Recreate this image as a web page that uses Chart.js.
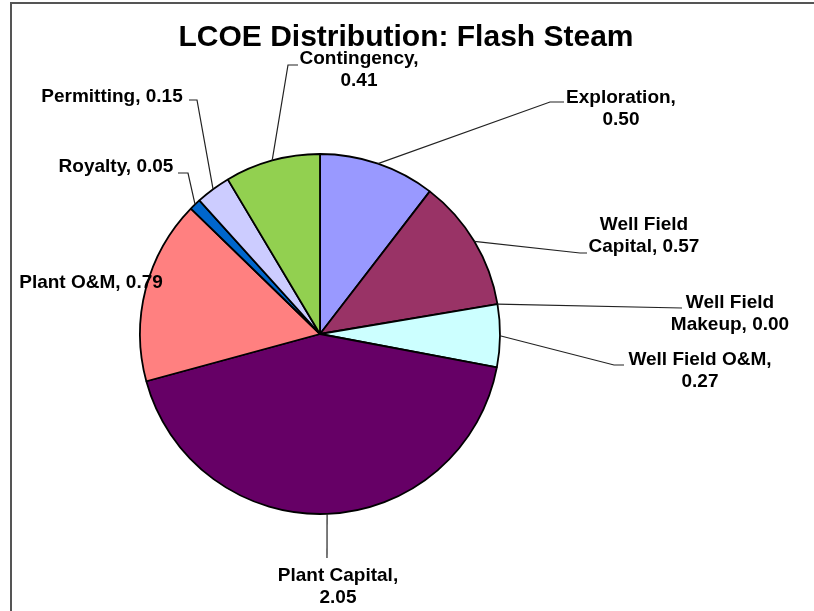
<!DOCTYPE html>
<html>
<head>
<meta charset="utf-8">
<title>LCOE Distribution: Flash Steam</title>
<script src="https://cdn.jsdelivr.net/npm/chart.js@4"></script>
<style>
  html, body { margin: 0; padding: 0; background: #fff; }
  #wrap { width: 814px; height: 611px; }
</style>
</head>
<body>
<div id="wrap"><canvas id="lcoeChart" width="814" height="611"></canvas></div>
<script>
/* =========================
   DATA
========================= */
const chartTitle = "LCOE Distribution: Flash Steam";

const categories = [
  "Exploration",
  "Well Field Capital",
  "Well Field Makeup",
  "Well Field O&M",
  "Plant Capital",
  "Plant O&M",
  "Royalty",
  "Permitting",
  "Contingency"
];

const values = [0.50, 0.57, 0.00, 0.27, 2.05, 0.79, 0.05, 0.15, 0.41];

const sliceColors = [
  "#9999ff", "#993366", "#ffffcc", "#ccffff",
  "#660066", "#ff8080", "#0066cc", "#ccccff", "#92d050"
];

/* =========================
   LABEL PLACEMENT (layout only)
   cx/cy = centre of first text line, wrap = max line width,
   elbow/tick = where the leader line bends and ends
========================= */
const labelSpots = [
  { cx: 621, cy: 98,  wrap: 115, elbow: [550, 102], tick: [564, 102] },
  { cx: 644, cy: 225, wrap: 120, elbow: [580, 253], tick: [587, 253] },
  { cx: 730, cy: 303, wrap: 125, elbow: [682, 308], tick: null },
  { cx: 700, cy: 360, wrap: 150, elbow: [614, 365], tick: [624, 365] },
  { cx: 338, cy: 576, wrap: 130, elbow: [327, 558], tick: null },
  { cx: 91,  cy: 283, wrap: 300, elbow: null,       tick: null },
  { cx: 116, cy: 167, wrap: 300, elbow: [188, 173], tick: [178, 173] },
  { cx: 112, cy: 97,  wrap: 300, elbow: [197, 100], tick: [189, 100] },
  { cx: 359, cy: 59,  wrap: 125, elbow: [288, 65],  tick: [298, 65] }
];

const FONT = "'Liberation Sans', Arial, sans-serif";

function wrapText(ctx, text, maxWidth) {
  const words = text.split(" ");
  const lines = [];
  let line = "";
  words.forEach(w => {
    const test = line ? line + " " + w : w;
    if (line && ctx.measureText(test).width > maxWidth) {
      lines.push(line);
      line = w;
    } else {
      line = test;
    }
  });
  if (line) lines.push(line);
  return lines;
}

/* =========================
   FRAME, TITLE, LABELS
========================= */
const frameAndLabels = {
  id: "frameAndLabels",
  beforeDraw(chart) {
    const ctx = chart.ctx;
    ctx.save();
    ctx.fillStyle = "#ffffff";
    ctx.fillRect(0, 0, chart.width, chart.height);
    ctx.fillStyle = "#555555";
    ctx.fillRect(10, 2, chart.width - 10, 2);
    ctx.fillRect(10, 2, 2, chart.height - 2);

    ctx.fillStyle = "#000000";
    ctx.font = "bold 30px " + FONT;
    ctx.textAlign = "center";
    ctx.textBaseline = "middle";
    ctx.fillText(chartTitle, 406, 38);
    ctx.restore();
  },
  afterDatasetsDraw(chart) {
    const ctx = chart.ctx;
    const arcs = chart.getDatasetMeta(0).data;
    ctx.save();
    ctx.font = "bold 19px " + FONT;
    ctx.textAlign = "center";
    ctx.textBaseline = "middle";
    ctx.lineWidth = 1.2;
    ctx.strokeStyle = "#222222";
    ctx.fillStyle = "#000000";

    arcs.forEach((arc, i) => {
      const spot = labelSpots[i];
      const p = arc.getProps(["x", "y", "startAngle", "endAngle", "outerRadius"], true);
      const mid = (p.startAngle + p.endAngle) / 2;
      const px = p.x + Math.cos(mid) * p.outerRadius;
      const py = p.y + Math.sin(mid) * p.outerRadius;

      if (spot.elbow) {
        ctx.beginPath();
        ctx.moveTo(px, py);
        ctx.lineTo(spot.elbow[0], spot.elbow[1]);
        if (spot.tick) ctx.lineTo(spot.tick[0], spot.tick[1]);
        ctx.stroke();
      }

      const text = `${categories[i]}, ${values[i].toFixed(2)}`;
      const lines = wrapText(ctx, text, spot.wrap);
      lines.forEach((ln, k) => ctx.fillText(ln, spot.cx, spot.cy + k * 22));
    });
    ctx.restore();
  }
};

/* =========================
   CHART
========================= */
new Chart(document.getElementById("lcoeChart"), {
  type: "pie",
  data: {
    labels: categories,
    datasets: [{
      data: values,
      backgroundColor: sliceColors,
      borderColor: "#000000",
      borderWidth: 1.8,
      hoverOffset: 0
    }]
  },
  options: {
    responsive: false,
    animation: false,
    events: [],
    radius: 180,
    layout: { padding: { left: 10, right: 184, top: 80, bottom: 23 } },
    plugins: {
      legend: { display: false },
      tooltip: { enabled: false },
      title: { display: false }
    }
  },
  plugins: [frameAndLabels]
});
</script>
</body>
</html>
